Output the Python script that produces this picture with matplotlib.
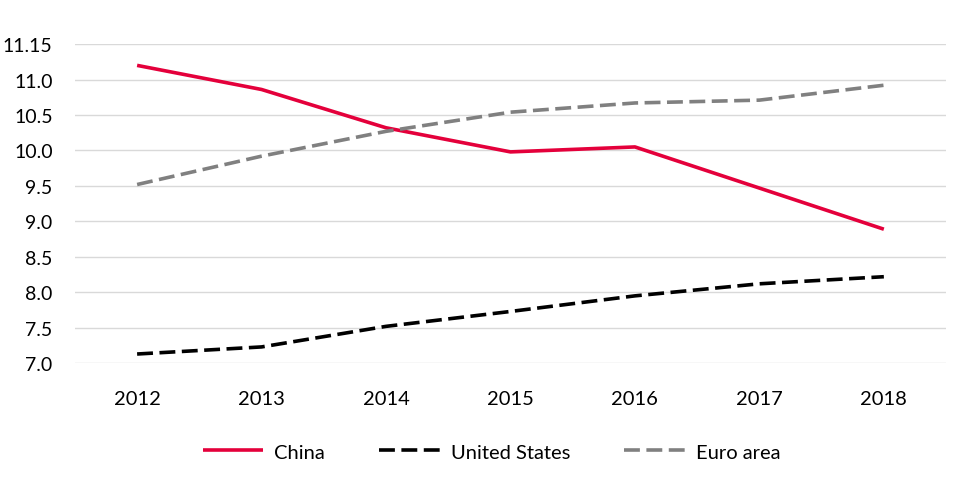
import matplotlib
matplotlib.use("Agg")
import matplotlib.pyplot as plt

years = ["2012", "2013", "2014", "2015", "2016", "2017", "2018"]
china = [11.20, 10.86, 10.32, 9.98, 10.05, 9.47, 8.89]
united_states = [7.13, 7.23, 7.52, 7.73, 7.95, 8.12, 8.22]
euro_area = [9.52, 9.92, 10.27, 10.54, 10.67, 10.71, 10.92]
ytick_values = [7.0, 7.5, 8.0, 8.5, 9.0, 9.5, 10.0, 10.5, 11.0, 11.5]
ytick_labels = ["7.0", "7.5", "8.0", "8.5", "9.0", "9.5", "10.0", "10.5", "11.0", "11.15"]

plt.rcParams['font.family'] = ['Lato', 'DejaVu Sans']

fig = plt.figure(figsize=(9.6, 4.85), dpi=100)
ax = fig.add_axes([0.078, 0.249, 0.9075, 0.658])

x = list(range(len(years)))
lw = 2.6
dash = (0, (4.4, 1.8))
ax.plot(x, china, color="#E4003B", lw=lw, label="China", solid_capstyle="butt")
ax.plot(x, united_states, color="black", lw=lw, ls=dash, label="United States")
ax.plot(x, euro_area, color="#808080", lw=lw, ls=dash, label="Euro area")

ax.set_xlim(-0.5, len(years) - 0.5)
ax.set_ylim(7.0, 11.5)
ax.set_xticks(x)
ax.set_xticklabels(years)
ax.set_yticks(ytick_values)
ax.set_yticklabels(ytick_labels)
ax.grid(axis="y", color="#D9D9D9", lw=1)
ax.set_axisbelow(True)
for s in ax.spines.values():
    s.set_visible(False)
ax.tick_params(axis="both", length=0, colors="black")
ax.tick_params(axis="x", pad=19, labelsize=14.5)
ax.tick_params(axis="y", pad=16, labelsize=14)

fig.legend(loc="center", bbox_to_anchor=(0.512, 0.066), ncol=3, frameon=False,
           fontsize=14.5, handlelength=3.0, handletextpad=0.55, columnspacing=2.7)

fig.savefig("out.png", dpi=100)
